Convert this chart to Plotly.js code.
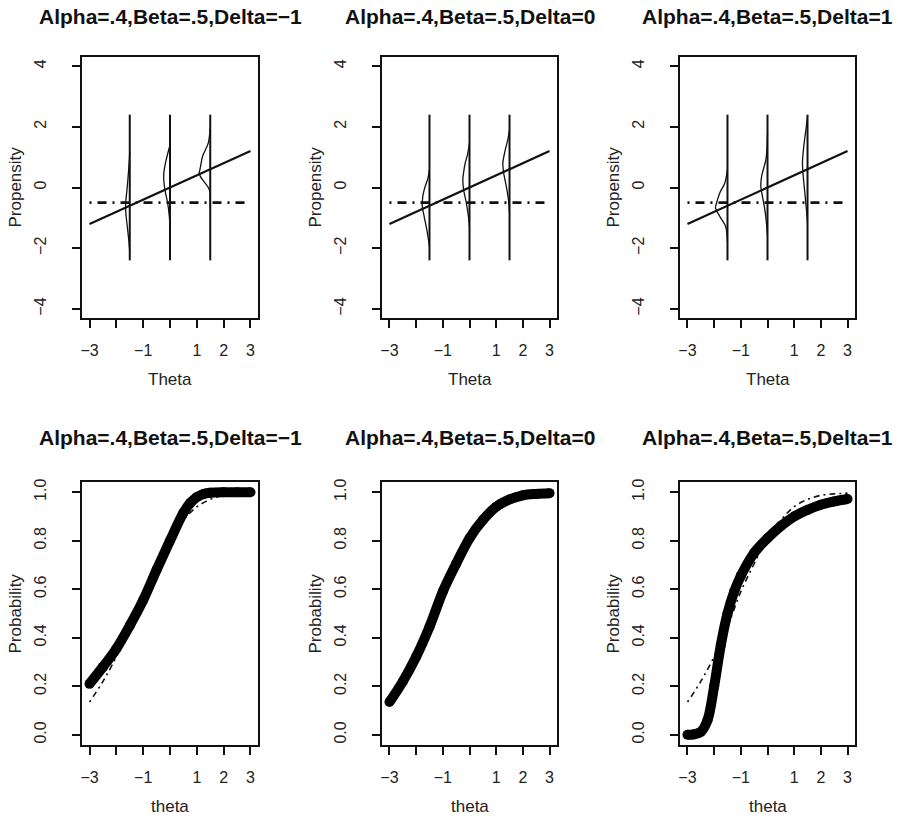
<!DOCTYPE html>
<html><head><meta charset="utf-8">
<script src="https://cdn.plot.ly/plotly-3.0.1.min.js"></script>
<style>html,body{margin:0;padding:0;background:#fff;} #chart{width:898px;height:828px;}</style>
</head><body><div id="chart"></div>
<script>
// ---------- data ----------
const panelTitles = ['Alpha=.4,Beta=.5,Delta=\u22121', 'Alpha=.4,Beta=.5,Delta=0', 'Alpha=.4,Beta=.5,Delta=1'];
const xTickVals = [-3, -2, -1, 0, 1, 2, 3];
const xTickText = ['\u22123', '', '\u22121', '', '1', '2', '3'];
const topYTickVals = [-4, -2, 0, 2, 4];
const topYTickText = ['\u22124', '\u22122', '0', '2', '4'];
const botYTickVals = [0, 0.2, 0.4, 0.6, 0.8, 1.0];
const botYTickText = ['0.0', '0.2', '0.4', '0.6', '0.8', '1.0'];

// top row: latent propensity
const lineTheta = [-3, 3];
const lineProp = [-1.2, 1.2];
const threshTheta = [-3, 3];
const threshProp = [-0.5, -0.5];
const condTheta = [-1.5, 0, 1.5];
const propRange = [-2.4, 2.4];

// densities (propensity values and horizontal offsets) for Delta = -1, 0, 1
const densY_m1 = [
  [1.15, 0.6, 0.05, -0.5, -0.8, -1.3, -1.7, -2.1],
  [1.4, 0.8, 0.4, 0.05, -0.25, -0.5, -0.95, -1.4],
  [1.95, 1.46, 1.03, 0.75, 0.59, 0.48, 0.35, 0.26, 0.04, -0.12, -0.7]
];
const densW_m1 = [
  [0, -0.04, -0.09, -0.15, -0.15, -0.09, -0.04, 0],
  [0, -0.17, -0.235, -0.21, -0.15, -0.09, -0.025, 0],
  [0, -0.075, -0.286, -0.35, -0.385, -0.41, -0.36, -0.29, -0.1, -0.02, 0]
];
const densY_0 = [
  [0.6, 0.3, 0.04, -0.29, -0.62, -0.95, -1.39, -1.94],
  [1.46, 1.1, 0.81, 0.5, 0.26, -0.07, -0.51, -0.95, -1.28],
  [1.9, 1.55, 1.24, 0.81, 0.48, 0.04, -0.4, -0.84]
];
const densW_0 = [
  [0, -0.06, -0.16, -0.25, -0.27, -0.2, -0.1, 0],
  [0, -0.07, -0.16, -0.22, -0.25, -0.22, -0.12, -0.04, 0],
  [0, -0.07, -0.16, -0.25, -0.22, -0.12, -0.04, 0]
];
const densY_p1 = [
  [0.6, 0.15, -0.18, -0.51, -0.67, -0.95, -1.22, -1.39, -1.6, -1.8],
  [1.79, 1.3, 0.92, 0.37, 0.04, -0.29, -0.73, -1.17, -1.6],
  [2.34, 1.9, 1.36, 0.81, 0.37, -0.18, -0.73, -1.17]
];
const densW_p1 = [
  [0, -0.1, -0.29, -0.41, -0.45, -0.29, -0.1, -0.04, -0.015, 0],
  [0, -0.02, -0.06, -0.22, -0.25, -0.19, -0.1, -0.04, 0],
  [0, -0.06, -0.14, -0.19, -0.16, -0.1, -0.04, 0]
];

// bottom row: probability curves
const thetaM1 = [-3, -2.5, -2, -1.5, -1, -0.5, 0, 0.5, 0.75, 1, 1.25, 1.5, 2, 2.5, 3];
const probM1  = [0.21, 0.28, 0.355, 0.45, 0.555, 0.68, 0.80, 0.915, 0.955, 0.98, 0.993, 0.998, 1.0, 1.0, 1.0];
const theta0  = [-3, -2.5, -2, -1.5, -1, -0.5, 0, 0.5, 1, 1.5, 2, 2.5, 3];
const prob0   = [0.135, 0.22, 0.322, 0.445, 0.59, 0.705, 0.81, 0.885, 0.94, 0.97, 0.987, 0.993, 0.996];
const thetaP1 = [-3, -2.75, -2.5, -2.25, -2, -1.75, -1.5, -1.25, -1, -0.5, 0, 0.5, 1, 1.5, 2, 2.5, 3];
const probP1  = [0.0, 0.002, 0.012, 0.06, 0.2, 0.37, 0.5, 0.59, 0.655, 0.75, 0.81, 0.86, 0.90, 0.927, 0.948, 0.962, 0.972];
const refTheta = theta0;
const refProb = prob0;

// ---------- build ----------
const W = 898, H = 828;
const boxX = [[82, 258], [382, 557], [680, 855]];
const topBox = [57, 318];
const botBox = [482, 745];
const font = 'Liberation Sans, Arial, Helvetica, sans-serif';
const densY = [densY_m1, densY_0, densY_p1];
const densW = [densW_m1, densW_0, densW_p1];
const probTheta = [thetaM1, theta0, thetaP1];
const probVals = [probM1, prob0, probP1];

const traces = [];
const layout = {
  width: W, height: H, margin: {l: 0, r: 0, t: 0, b: 0},
  paper_bgcolor: '#fff', plot_bgcolor: '#fff', showlegend: false,
  hovermode: false, annotations: [], font: {family: font, color: '#111'}
};

function axisBase() {
  return {
    showline: true, linecolor: '#111', linewidth: 1.8, mirror: true,
    ticks: 'outside', ticklen: 8, tickwidth: 2, tickcolor: '#111',
    showgrid: false, zeroline: false, fixedrange: true,
    tickfont: {family: font, size: 16, color: '#222'}
  };
}

for (let p = 0; p < 6; p++) {
  const col = p % 3, top = p < 3;
  const idx = p + 1;
  const xa = idx === 1 ? 'x' : 'x' + idx;
  const ya = idx === 1 ? 'y' : 'y' + idx;
  const box = top ? topBox : botBox;
  const xd = [boxX[col][0] / W, boxX[col][1] / W];
  const yd = [1 - box[1] / H, 1 - box[0] / H];
  const xax = Object.assign(axisBase(), {
    domain: xd, range: [-3.28, 3.28], tickvals: xTickVals, ticktext: xTickText,
    anchor: ya, ticklabelstandoff: 9
  });
  const yax = Object.assign(axisBase(), {
    domain: yd, anchor: xa, tickangle: -90, ticklabelstandoff: 20,
    range: top ? [-4.3, 4.3] : [-0.042, 1.042],
    tickvals: top ? topYTickVals : botYTickVals,
    ticktext: top ? topYTickText : botYTickText
  });
  layout['xaxis' + (idx === 1 ? '' : idx)] = xax;
  layout['yaxis' + (idx === 1 ? '' : idx)] = yax;

  const cx = (boxX[col][0] + boxX[col][1]) / 2 / W;
  layout.annotations.push({
    text: '<b>' + panelTitles[col] + '</b>', xref: 'paper', yref: 'paper',
    x: cx, y: 1 - (top ? 17 : 437) / H, xanchor: 'center', yanchor: 'middle',
    showarrow: false, font: {family: font, size: 21, color: '#111'}
  });
  layout.annotations.push({
    text: top ? 'Theta' : 'theta', xref: 'paper', yref: 'paper',
    x: cx, y: 1 - (box[1] + 61) / H, xanchor: 'center', yanchor: 'middle',
    showarrow: false, font: {family: font, size: 17, color: '#222'}
  });
  layout.annotations.push({
    text: top ? 'Propensity' : 'Probability', xref: 'paper', yref: 'paper',
    x: (boxX[col][0] - 67) / W, y: 1 - (box[0] + box[1]) / 2 / H,
    xanchor: 'center', yanchor: 'middle', textangle: -90,
    showarrow: false, font: {family: font, size: 17, color: '#222'}
  });

  if (top) {
    const vx = [], vy = [];
    condTheta.forEach((t) => { vx.push(t, t, null); vy.push(propRange[0], propRange[1], null); });
    traces.push({x: vx, y: vy, xaxis: xa, yaxis: ya, mode: 'lines', line: {color: '#111', width: 2}});
    condTheta.forEach((t, i) => {
      traces.push({
        x: densW[col][i].map(w => t + w), y: densY[col][i], xaxis: xa, yaxis: ya,
        mode: 'lines', line: {color: '#111', width: 1.3, shape: 'spline', smoothing: 0.8}
      });
    });
    traces.push({x: lineTheta, y: lineProp, xaxis: xa, yaxis: ya, mode: 'lines', line: {color: '#111', width: 2.2}});
    traces.push({x: threshTheta, y: threshProp, xaxis: xa, yaxis: ya, mode: 'lines',
      line: {color: '#111', width: 2.8, dash: '2px,6px,9px,6px'}});
  } else {
    traces.push({x: refTheta, y: refProb, xaxis: xa, yaxis: ya, mode: 'lines',
      line: {color: '#111', width: 1.6, dash: '2px,4px,6px,4px', shape: 'spline', smoothing: 1}});
    traces.push({x: probTheta[col], y: probVals[col], xaxis: xa, yaxis: ya, mode: 'lines+markers',
      line: {color: '#000', width: 10, shape: 'spline', smoothing: 1},
      marker: {color: '#000', size: 10}});
  }
}

Plotly.newPlot('chart', traces, layout, {displayModeBar: false, staticPlot: true});
</script>
</body></html>
